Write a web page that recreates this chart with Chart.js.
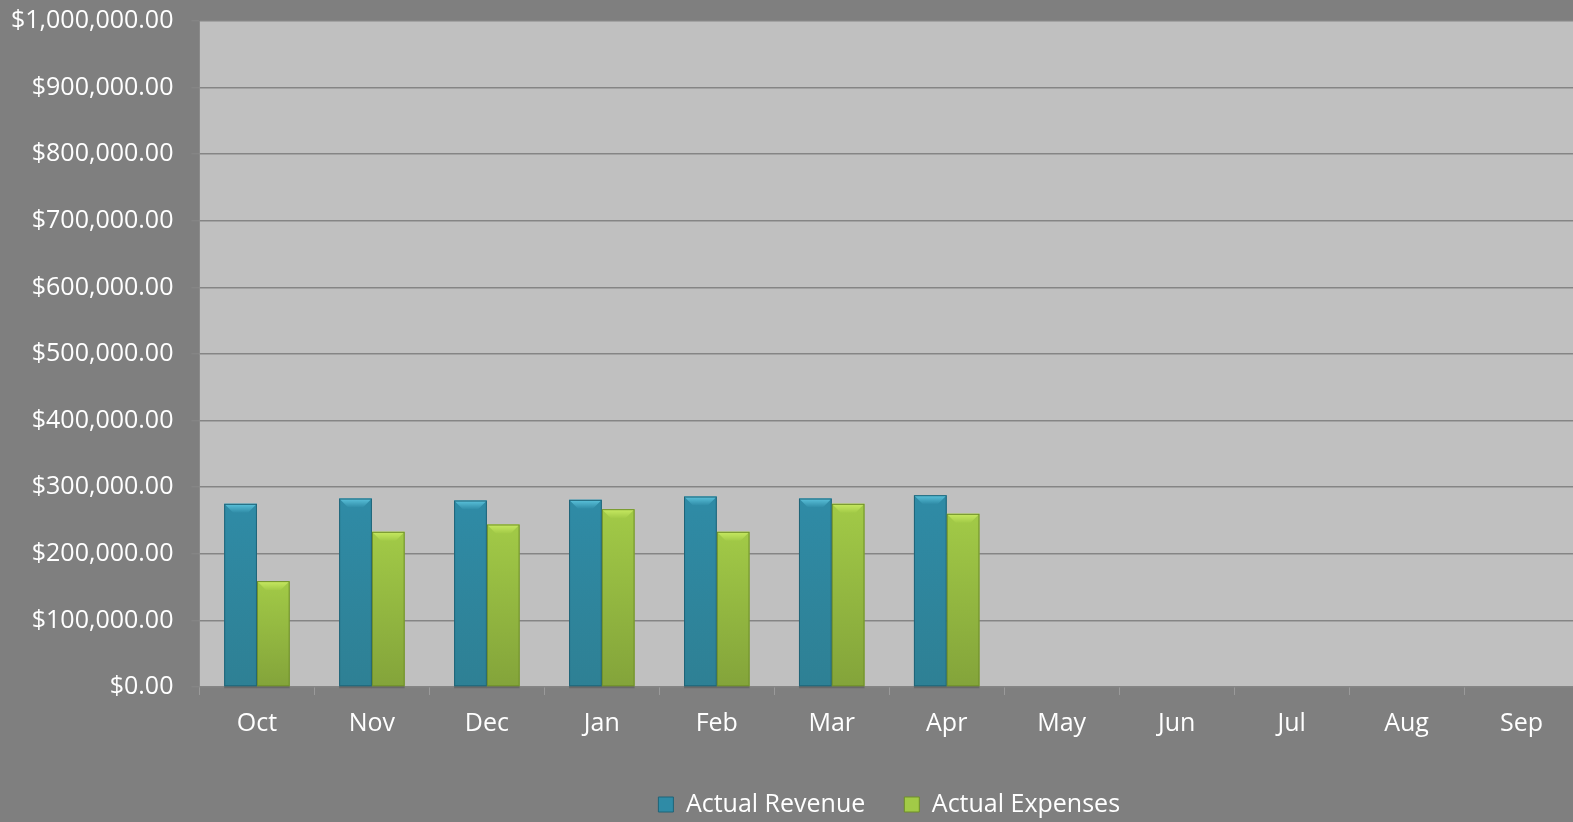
<!DOCTYPE html>
<html>
<head>
<meta charset="utf-8">
<script src="https://cdn.jsdelivr.net/npm/chart.js@4.4.1/dist/chart.umd.min.js"></script>
<style>
  html, body { margin: 0; padding: 0; background: #7f7f7f; overflow: hidden; }
  /* the original plot runs a few px past the right edge; canvas is a bit larger and clipped */
  #wrap { position: absolute; left: -19px; top: -12px; width: 1598px; height: 839px; }
</style>
</head>
<body>
<div id="wrap"><canvas id="chart"></canvas></div>
<script>
// ---- data ----
const months = ['Oct', 'Nov', 'Dec', 'Jan', 'Feb', 'Mar', 'Apr', 'May', 'Jun', 'Jul', 'Aug', 'Sep'];
const actualRevenue = [275000, 283000, 280000, 281000, 286000, 283000, 288000, null, null, null, null, null];
const actualExpenses = [159000, 233000, 244000, 267000, 233000, 275000, 260000, null, null, null, null, null];
const yTicks = [0, 100000, 200000, 300000, 400000, 500000, 600000, 700000, 800000, 900000, 1000000];

const FONT = '"Open Sans", "Noto Sans", sans-serif';
const FONT_SIZE = 25;

// colours: main, light top bevel, dark side, shade toward the base
const REV = { main: '#2f8ba6', light: '#5cc3dc', dark: '#1f6478', shade: 0.12 };
const EXP = { main: '#a2ca47', light: '#c8ea62', dark: '#6f8f2a', shade: 0.25 };

function money(v) {
  return '$' + v.toLocaleString('en-US', { minimumFractionDigits: 2, maximumFractionDigits: 2 });
}

function sideGradient(ctx, pal) {
  const el = ctx.element;
  const chart = ctx.chart;
  if (!el || !chart.chartArea) return pal.main;
  const w = el.width;
  if (!Number.isFinite(el.x) || !Number.isFinite(w) || w <= 0) return pal.main;
  const g = chart.ctx.createLinearGradient(el.x - w / 2, 0, el.x + w / 2, 0);
  g.addColorStop(0, pal.dark);
  g.addColorStop(0.1, pal.main);
  g.addColorStop(0.9, pal.main);
  g.addColorStop(1, pal.dark);
  return g;
}

// plot background
const plotBg = {
  id: 'plotBg',
  beforeDraw(chart) {
    const { ctx, chartArea: a } = chart;
    ctx.save();
    ctx.fillStyle = '#c0c0c0';
    ctx.fillRect(a.left, a.top, a.right - a.left, a.bottom - a.top);
    ctx.restore();
  }
};

// bevel on top of each bar + darker toward the base
const bevel = {
  id: 'bevel',
  afterDatasetsDraw(chart) {
    const ctx = chart.ctx;
    chart.data.datasets.forEach((ds, i) => {
      const pal = i === 0 ? REV : EXP;
      chart.getDatasetMeta(i).data.forEach((bar, j) => {
        if (ds.data[j] == null || !Number.isFinite(bar.y)) return;
        const l = bar.x - bar.width / 2, r = bar.x + bar.width / 2;
        const t = bar.y, b = 9;
        ctx.save();
        // vertical shading
        const sh = ctx.createLinearGradient(0, t, 0, bar.base);
        sh.addColorStop(0, 'rgba(40,50,20,0)');
        sh.addColorStop(1, `rgba(40,50,20,${pal.shade})`);
        ctx.fillStyle = sh;
        ctx.fillRect(l, t, bar.width, bar.base - t);
        // top bevel
        const g = ctx.createLinearGradient(0, t, 0, t + b);
        g.addColorStop(0, pal.light);
        g.addColorStop(1, pal.main);
        ctx.fillStyle = g;
        ctx.beginPath();
        ctx.moveTo(l, t);
        ctx.lineTo(r, t);
        ctx.lineTo(r - b, t + b);
        ctx.lineTo(l + b, t + b);
        ctx.closePath();
        ctx.fill();
        ctx.strokeStyle = pal.dark;
        ctx.lineWidth = 1;
        ctx.strokeRect(l + 0.5, t + 0.5, bar.width - 1, bar.base - t - 1);
        // soft shadow under the base
        ctx.fillStyle = 'rgba(60,60,60,0.35)';
        ctx.fillRect(l, bar.base, bar.width, 2);
        ctx.restore();
      });
    });
  }
};

function draw() {
  new Chart(document.getElementById('chart'), {
    type: 'bar',
    data: {
      labels: months,
      datasets: [
        {
          label: 'Actual Revenue',
          data: actualRevenue,
          backgroundColor: c => sideGradient(c, REV),
          borderWidth: 0,
          categoryPercentage: 0.57,
          barPercentage: 1.0,
        },
        {
          label: 'Actual Expenses',
          data: actualExpenses,
          backgroundColor: c => sideGradient(c, EXP),
          borderWidth: 0,
          categoryPercentage: 0.57,
          barPercentage: 1.0,
        },
      ],
    },
    options: {
      responsive: true,
      maintainAspectRatio: false,
      animation: false,
      layout: { padding: { top: 0, right: 0, left: 12, bottom: 0 } },
      plugins: {
        tooltip: { enabled: false },
        legend: {
          position: 'bottom',
          fullSize: false,
          labels: {
            color: '#ffffff',
            font: { family: FONT, size: FONT_SIZE },
            boxWidth: 15,
            boxHeight: 15,
            padding: 39,
            generateLabels(chart) {
              return chart.data.datasets.map((ds, i) => ({
                text: ds.label,
                fillStyle: i === 0 ? REV.main : EXP.main,
                strokeStyle: i === 0 ? REV.dark : EXP.dark,
                lineWidth: 1,
                fontColor: '#ffffff',
                datasetIndex: i,
              }));
            },
          },
        },
      },
      scales: {
        x: {
          grid: { drawOnChartArea: false, drawTicks: true, tickLength: 8, color: '#9a9a9a' },
          border: { display: false },
          ticks: { color: '#ffffff', font: { family: FONT, size: FONT_SIZE }, padding: 14 },
        },
        y: {
          min: 0,
          max: 1000000,
          afterBuildTicks(axis) { axis.ticks = yTicks.map(v => ({ value: v })); },
          grid: { color: '#858585', lineWidth: 1.5, tickLength: 8 },
          border: { display: true, color: '#8a8a8a' },
          ticks: {
            color: '#ffffff',
            font: { family: FONT, size: FONT_SIZE },
            padding: 18,
            callback: v => money(v),
          },
        },
      },
    },
    plugins: [plotBg, bevel],
  });
}

document.fonts.load(FONT_SIZE + 'px "Open Sans"').then(draw, draw);
</script>
</body>
</html>
